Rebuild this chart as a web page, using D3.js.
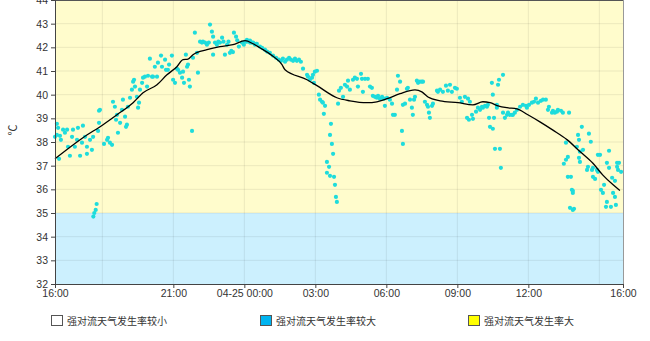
<!DOCTYPE html>
<html>
<head>
<meta charset="utf-8">
<script src="https://cdn.jsdelivr.net/npm/d3@7"></script>
<style>
  body { margin: 0; background: #fff; }
  text { font-family: "Liberation Sans", Arial, "Noto Sans CJK SC", sans-serif; }
</style>
</head>
<body>
<div id="chart"></div>
<script>
// hours after 16:00 on 04-24
const xTicks = [0, 5, 8, 11, 14, 17, 20, 24];
const xTickLabels = ["16:00", "21:00", "04-25 00:00", "03:00", "06:00", "09:00", "12:00", "16:00"];
const xGrid = [2, 5, 8, 11, 14, 17, 20, 23];
const yTicks = [32, 33, 34, 35, 36, 37, 38, 39, 40, 41, 42, 43, 44];
const levelBreak = 35;

const legendLabels = ["强对流天气发生率较小", "强对流天气发生率较大", "强对流天气发生率大"];
const legendColors = ["#ffffff", "#00b4f0", "#ffff00"];

// black curve
const lineHours = [0, 1.18, 2.03, 2.62, 3.30, 3.72, 4.31, 4.73, 5.15, 5.41, 5.62, 5.83, 6.42, 6.97, 7.52, 8.03,
  8.37, 8.66, 9.21, 9.59, 9.72, 10.65, 11.07, 11.91, 12.46, 13.18, 13.60, 14.03, 14.58, 15.21, 15.50,
  15.76, 16.27, 17.03, 17.66, 18.08, 18.38, 18.72, 19.10, 19.52, 19.98, 20.49, 21.04, 21.63, 22.18,
  22.73, 23.15, 23.57, 23.87];
const lineTemps = [37.29, 38.18, 38.73, 39.15, 39.66, 40.08, 40.42, 40.84, 41.18, 41.48, 41.50, 41.69, 41.90,
  42.03, 42.11, 42.28, 42.15, 41.98, 41.62, 41.27, 41.05, 40.63, 40.38, 39.87, 39.74, 39.66, 39.70,
  39.83, 40.04, 40.20, 40.12, 39.90, 39.74, 39.66, 39.57, 39.70, 39.66, 39.53, 39.45, 39.40, 39.15,
  38.85, 38.50, 38.10, 37.60, 37.10, 36.60, 36.20, 35.95];

// scattered observations [hour, temp]
const obs = [
  [0.08,38.77],[0.13,38.60],[0.00,38.22],[0.08,38.30],[0.21,38.26],[0.17,37.29],[0.25,38.09],[0.34,38.52],
  [0.42,38.39],[0.51,38.52],[0.55,37.80],[0.63,37.42],[0.72,38.22],[0.76,38.52],[0.84,37.80],[0.93,38.09],
  [0.97,38.60],[1.06,37.42],[1.14,37.97],[1.18,38.69],[1.27,38.22],[1.35,37.80],[1.35,37.50],[1.48,38.09],
  [1.56,37.67],[1.61,38.22],[1.62,34.85],[1.66,35.00],[1.72,35.13],[1.76,35.38],[1.86,39.32],[1.82,38.47],
  [1.90,39.36],[1.86,38.81],[2.07,37.92],[2.20,38.09],[2.24,38.18],[2.32,37.97],[2.41,37.88],[2.45,39.70],
  [2.53,39.49],[2.58,38.94],[2.62,39.15],[2.66,38.39],[2.75,38.81],[2.83,39.36],[2.87,39.79],[2.96,39.07],
  [3.00,38.64],[3.04,38.73],[3.08,39.49],[3.17,39.87],[3.25,40.21],[3.30,40.55],[3.34,40.63],[3.38,40.34],
  [3.46,39.91],[3.51,39.45],[3.55,39.66],[3.59,40.21],[3.68,40.50],[3.72,40.72],[3.80,40.76],[3.89,40.34],
  [3.93,40.80],[4.01,41.52],[4.10,40.76],[4.14,40.76],[4.22,41.18],[4.31,40.76],[4.35,41.35],[4.48,41.65],
  [4.52,41.18],[4.65,41.48],[4.69,41.05],[4.77,41.05],[4.82,41.27],[4.94,41.65],[4.99,40.63],[5.07,40.50],
  [5.15,41.10],[5.20,41.05],[5.28,40.93],[5.37,40.72],[5.41,40.97],[5.45,40.50],[5.53,41.69],[5.58,41.18],
  [5.62,41.27],[5.66,40.63],[5.70,40.34],[5.79,38.47],[5.83,41.56],[5.91,42.62],[6.00,41.77],[6.04,40.93],
  [6.13,42.24],[6.21,42.20],[6.25,42.24],[6.34,42.20],[6.42,42.11],[6.50,42.20],[6.55,42.96],[6.63,42.66],
  [6.68,42.45],[6.68,41.69],[6.76,42.20],[6.84,42.11],[6.90,42.24],[6.97,42.20],[7.06,42.41],[7.12,42.24],
  [7.18,41.69],[7.27,42.11],[7.33,42.24],[7.39,41.77],[7.45,41.85],[7.52,41.80],[7.56,42.62],[7.65,42.45],
  [7.70,42.30],[7.77,42.03],[7.90,42.20],[7.98,42.11],[8.11,42.24],[8.24,42.20],[8.37,42.20],[8.50,42.15],
  [8.03,42.24],[8.11,42.32],[8.24,42.28],[8.32,42.20],[8.45,42.11],[8.53,42.15],[8.66,42.03],[8.75,41.98],
  [8.87,41.90],[8.96,41.82],[9.08,41.77],[9.21,41.65],[9.34,41.56],[9.46,41.48],[9.55,41.43],[9.63,41.52],
  [9.72,41.39],[9.80,41.48],[9.89,41.56],[9.97,41.48],[10.06,41.43],[10.14,41.52],[10.22,41.43],[10.31,41.48],
  [10.39,41.39],[10.48,41.10],[10.65,40.84],[10.69,40.76],[10.77,40.63],[10.86,40.72],[10.90,40.84],
  [10.98,40.97],[11.07,41.01],[10.94,40.50],[11.15,40.00],[11.20,39.79],[11.28,39.70],[11.32,39.66],
  [11.41,39.53],[11.36,39.19],[11.66,38.77],[11.62,38.30],[11.70,37.92],[11.75,37.50],[11.49,37.16],
  [11.58,36.95],[11.49,36.70],[11.62,36.57],[11.79,36.53],[11.83,36.19],[11.87,35.68],[11.91,35.47],
  [11.96,39.62],[12.00,40.17],[12.08,40.29],[12.17,39.91],[12.25,40.42],[12.34,40.34],[12.38,40.59],
  [12.46,40.21],[12.59,40.63],[12.67,40.72],[12.76,40.67],[12.80,40.34],[12.93,40.88],[12.97,40.67],
  [13.01,40.12],[13.10,40.67],[13.22,40.67],[13.31,40.34],[13.39,40.29],[13.43,39.95],[13.52,39.91],
  [13.60,39.87],[13.65,39.95],[13.73,39.83],[13.82,39.91],[13.90,39.83],[13.94,39.53],[14.03,39.87],
  [14.15,39.79],[14.24,39.62],[14.28,39.15],[14.36,39.15],[14.45,40.21],[14.49,40.80],[14.58,40.55],
  [14.66,38.47],[14.70,37.92],[14.70,39.57],[14.79,39.62],[14.87,40.25],[14.91,40.29],[15.00,39.79],
  [15.08,39.45],[15.12,39.15],[15.17,39.79],[15.21,39.91],[15.29,40.59],[15.34,40.50],[15.42,40.55],
  [15.50,40.55],[15.55,40.55],[15.63,39.70],[15.72,39.57],[15.76,39.49],[15.80,39.24],[15.84,39.02],
  [15.93,39.53],[15.97,39.62],[16.14,40.17],[16.18,40.12],[16.27,40.21],[16.39,40.12],[16.52,40.38],
  [16.60,40.17],[16.69,40.42],[16.77,40.12],[16.90,40.29],[16.98,40.25],
  [17.11,39.87],[17.19,39.70],[17.32,39.91],[17.45,39.83],[17.53,39.70],[17.41,39.02],[17.49,38.94],
  [17.62,39.15],[17.66,38.98],[17.79,39.28],[17.87,39.45],[17.96,39.36],[18.04,39.49],[18.08,39.45],
  [18.17,39.53],[18.25,39.49],[18.29,39.57],[18.34,39.02],[18.38,38.64],[18.46,40.50],[18.50,40.00],
  [18.50,38.56],[18.55,39.02],[18.59,37.71],[18.67,39.57],[18.67,39.45],[18.72,40.42],[18.76,40.63],
  [18.80,37.71],[18.84,36.91],[18.93,40.84],[18.93,39.24],[19.01,39.02],[19.10,39.15],[19.14,39.24],
  [19.22,39.15],[19.31,39.15],[19.35,39.15],[19.43,39.24],[19.52,39.36],[19.65,39.49],[19.77,39.57],
  [19.90,39.53],[19.94,39.45],[20.03,39.57],[20.15,39.66],[20.24,39.70],[20.32,39.83],[20.41,39.66],
  [20.53,39.74],[20.62,39.79],[20.74,39.79],[20.83,39.36],[20.87,39.49],[21.00,39.24],[21.04,39.32],
  [21.12,39.24],[21.21,39.28],[21.25,39.36],[21.38,39.32],[21.46,39.24],[21.72,39.24],
  [22.26,38.64],[22.10,38.30],[22.56,38.35],[22.14,38.09],[22.64,38.01],[21.59,37.97],[22.05,37.80],
  [22.31,37.67],[22.18,37.59],[22.94,37.46],[23.03,37.46],[23.41,37.63],[21.67,37.37],[22.14,37.33],
  [22.18,37.16],[21.59,37.25],[21.50,37.08],[22.52,36.95],[22.48,36.82],[22.69,36.82],[22.73,36.91],
  [22.90,36.82],[22.94,36.74],[23.32,37.12],[23.41,36.91],[23.75,37.12],[23.83,37.12],[23.79,36.82],
  [23.92,36.74],[23.75,36.95],[22.73,36.53],[22.82,36.44],[23.54,36.49],[23.66,36.36],[21.67,36.53],
  [21.80,36.53],[23.20,36.19],[21.84,35.98],[21.88,35.94],[21.88,35.85],[23.07,35.98],[23.15,35.85],
  [23.58,35.85],[23.66,35.68],[23.32,35.47],[23.70,35.34],[23.49,35.26],[23.28,35.26],[21.76,35.22],
  [21.88,35.13],[21.93,35.18]
];

const W = 650, H = 341;
const margin = { top: 0, right: 27, bottom: 57, left: 55 };
const width = W - margin.left - margin.right;
const height = H - margin.top - margin.bottom;

const svg = d3.select("#chart").append("svg")
  .attr("width", W).attr("height", H);
const g = svg.append("g")
  .attr("transform", "translate(" + margin.left + "," + margin.top + ")");

const x = d3.scaleLinear().domain([0, 24]).range([0, width]);
const y = d3.scaleLinear().domain([32, 44]).range([height, 0]);

// background bands
g.append("rect").attr("x", 0).attr("y", y(44)).attr("width", width)
  .attr("height", y(levelBreak) - y(44)).attr("fill", "#fffccc");
g.append("rect").attr("x", 0).attr("y", y(levelBreak)).attr("width", width)
  .attr("height", y(32) - y(levelBreak)).attr("fill", "#ccf0fe");

// grid
g.append("g").selectAll("line").data(yTicks.slice(1, -1)).join("line")
  .attr("x1", 0).attr("x2", width)
  .attr("y1", d => y(d)).attr("y2", d => y(d))
  .attr("stroke", "#000").attr("stroke-opacity", 0.08);
g.append("g").selectAll("line").data(xGrid).join("line")
  .attr("x1", d => x(d)).attr("x2", d => x(d))
  .attr("y1", 0).attr("y2", height)
  .attr("stroke", "#000").attr("stroke-opacity", 0.08);

// frame
g.append("line").attr("x1", 0).attr("x2", width).attr("y1", 0.5).attr("y2", 0.5)
  .attr("stroke", "#555");
g.append("line").attr("x1", width + 0.5).attr("x2", width + 0.5).attr("y1", 0).attr("y2", height)
  .attr("stroke", "#999");

// points
g.append("g").selectAll("circle").data(obs).join("circle")
  .attr("cx", d => x(d[0])).attr("cy", d => y(d[1]))
  .attr("r", 2.1).attr("fill", "#1edcdc");

// curve
const lineData = lineHours.map((h, i) => [h, lineTemps[i]]);
g.append("path").datum(lineData)
  .attr("fill", "none").attr("stroke", "#000").attr("stroke-width", 1.3)
  .attr("d", d3.line().x(d => x(d[0])).y(d => y(d[1])).curve(d3.curveMonotoneX));

// axes
const xAxis = g.append("g").attr("transform", "translate(0," + height + ")")
  .call(d3.axisBottom(x).tickValues(xTicks).tickFormat((d, i) => xTickLabels[i]).tickSizeOuter(0).tickSize(4));
const yAxis = g.append("g")
  .call(d3.axisLeft(y).tickValues(yTicks).tickFormat(d3.format("d")).tickSizeOuter(0).tickSize(4));
[xAxis, yAxis].forEach(a => {
  a.select(".domain").attr("stroke", "#444");
  a.selectAll(".tick line").attr("stroke", "#444");
  a.selectAll(".tick text").attr("fill", "#333").style("font-size", "10.5px");
});
xAxis.selectAll(".tick text").attr("dy", "0.6em");

// y title
svg.append("text").attr("transform", "translate(17,130) rotate(-90)")
  .attr("text-anchor", "middle").attr("fill", "#333").style("font-size", "11px").text("℃");

// legend
const legendX = [51, 260, 468];
const lg = svg.append("g").selectAll("g").data(legendLabels).join("g")
  .attr("transform", (d, i) => "translate(" + legendX[i] + ",315)");
lg.append("rect").attr("x", 0.5).attr("y", 0.5).attr("width", 11).attr("height", 10)
  .attr("fill", (d, i) => legendColors[i]).attr("stroke", "#555");
lg.append("text").attr("x", 16).attr("y", 9.5).attr("fill", "#333")
  .style("font-size", "10px").text(d => d);
</script>
</body>
</html>
